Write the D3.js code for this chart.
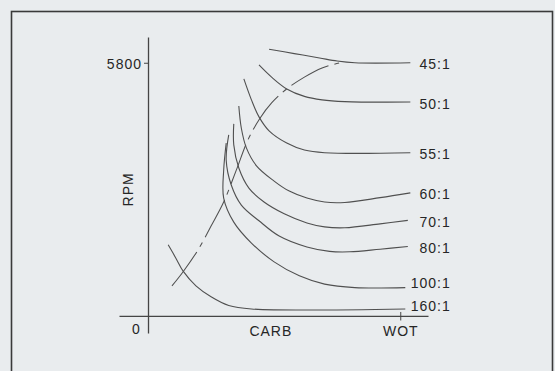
<!DOCTYPE html>
<html>
<head>
<meta charset="utf-8">
<script src="https://cdn.jsdelivr.net/npm/d3@7"></script>
<style>
  html, body { margin: 0; padding: 0; background: #e9ecee; }
  svg { display: block; }
  text { font-family: "Liberation Sans", Arial, sans-serif; fill: #262626; }
</style>
</head>
<body>
<svg id="chart" width="555" height="371"></svg>
<script>
// Engine speed (rpm) against throttle opening (%), one curve per mixture ratio.
const ratioLabels = ["45:1", "50:1", "55:1", "60:1", "70:1", "80:1", "100:1", "160:1"];

const curve45  = [[48, 6110], [58, 6010], [68, 5910], [75, 5840], [82, 5800], [104, 5800]];
const curve50  = [[44, 5750], [49, 5470], [55, 5200], [62, 5030], [69, 4950], [78, 4910], [104, 4900]];
const curve55  = [[38, 5430], [41, 4950], [44, 4560], [48, 4240], [55, 3960], [62, 3800], [70, 3740], [104, 3740]];
const curve60  = [[36, 4810], [37, 4300], [39, 3850], [43, 3440], [50, 3090], [56, 2860], [63, 2700], [70, 2610], [78, 2600], [92, 2710], [104, 2820]];
const curve70  = [[34, 4400], [34, 3920], [36, 3390], [40, 2930], [46, 2610], [54, 2340], [63, 2130], [70, 2040], [78, 2020], [92, 2110], [103, 2190]];
const curve80  = [[32, 4150], [31, 3570], [33, 3000], [37, 2540], [44, 2180], [52, 1830], [63, 1580], [72, 1480], [80, 1470], [92, 1530], [103, 1590]];
const curve100 = [[31, 3960], [30, 3340], [30, 2700], [34, 2150], [41, 1670], [50, 1240], [60, 920], [70, 730], [82, 650], [102, 650]];
const curve160 = [[8, 1630], [11, 1330], [14, 1020], [19, 690], [25, 440], [32, 240], [41, 160], [102, 160]];

// Locus through the knees of the curves
const locus = [[9.5, 690], [14, 1020], [20, 1530], [25, 2060], [30, 2610], [35, 3340], [39.6, 4030], [44.4, 4530], [49, 4880], [55, 5200], [62, 5470], [69, 5680], [76, 5800]];

const yTickValues = [5800];
const xTickValues = [48.5, 100];
const xTickLabels = ["CARB", "WOT"];
const yTitle = "RPM";
const originLabel = "0";

const curves = [curve45, curve50, curve55, curve60, curve70, curve80, curve100, curve160];

const svg = d3.select("#chart");
const ink = "#454545";
const curveInk = "#505050";
const fontFamily = "Liberation Sans, Arial, sans-serif";

// Page frame
svg.append("rect")
  .attr("x", 11.5).attr("y", 11.5)
  .attr("width", 541).attr("height", 420)
  .attr("fill", "none").attr("stroke", "#3a3a3a").attr("stroke-width", 1.6);

const x = d3.scaleLinear().domain([-11.5, 111]).range([119, 428]);
const y = d3.scaleLinear().domain([-390, 6390]).range([333, 37]);

// Y axis (runs past the origin)
const yAxis = svg.append("g")
  .attr("transform", `translate(${x(0)},0)`)
  .call(d3.axisLeft(y).tickValues(yTickValues).tickSize(4).tickSizeOuter(0).tickPadding(2).tickFormat(d3.format("d")));
yAxis.select(".domain").attr("stroke", ink).attr("stroke-width", 1.3);
yAxis.selectAll(".tick line").attr("stroke", ink).attr("stroke-width", 1);
yAxis.selectAll(".tick text")
  .attr("font-size", 14).attr("letter-spacing", 1)
  .attr("font-family", fontFamily)
  .attr("fill", "#262626").attr("dy", "0.42em");

// X axis (runs past the origin to the left)
const xAxis = svg.append("g")
  .attr("transform", `translate(0,${y(0)})`)
  .call(d3.axisBottom(x).tickValues(xTickValues).tickSize(0).tickSizeOuter(0).tickPadding(10)
    .tickFormat((d, i) => xTickLabels[i]));
xAxis.select(".domain").attr("stroke", ink).attr("stroke-width", 1.3);
xAxis.selectAll(".tick text")
  .attr("font-size", 14).attr("letter-spacing", 1)
  .attr("font-family", fontFamily)
  .attr("fill", "#262626");
// Only the WOT position carries a tick mark, crossing the axis
xAxis.selectAll(".tick line")
  .attr("y1", d => d === 100 ? -4 : 0)
  .attr("y2", d => d === 100 ? 4.5 : 0)
  .attr("stroke", ink).attr("stroke-width", 1);

// Origin label
svg.append("text")
  .attr("x", x(0) - 12).attr("y", y(0) + 13)
  .attr("text-anchor", "middle").attr("dominant-baseline", "central")
  .attr("font-size", 14).text(originLabel);

// Axis title
svg.append("text")
  .attr("transform", `translate(${x(0) - 20},${(y(0) + y(5800)) / 2}) rotate(-90)`)
  .attr("text-anchor", "middle").attr("dominant-baseline", "central")
  .attr("font-size", 14).attr("letter-spacing", 1).text(yTitle);

const line = d3.line()
  .x(d => x(d[0])).y(d => y(d[1]))
  .curve(d3.curveCatmullRom.alpha(0.5));

// Ratio curves
svg.append("g").selectAll("path")
  .data(curves)
  .join("path")
  .attr("d", line)
  .attr("fill", "none")
  .attr("stroke", curveInk)
  .attr("stroke-width", 1.1);

// Knee locus, broken line
svg.append("path")
  .datum(locus)
  .attr("d", line)
  .attr("fill", "none")
  .attr("stroke", curveInk)
  .attr("stroke-width", 1.05)
  .attr("stroke-dasharray", "42,6,5,6");

// Ratio labels at the right-hand end of each curve; stacked from the
// bottom up so they keep clear of the axis and of each other.
const labelRight = x(100) + 50.5;
const labelGap = 23;
const labelY = new Array(curves.length);
for (let i = curves.length - 1; i >= 0; i--) {
  const c = curves[i];
  let ly = y(c[c.length - 1][1]) + 1.5;
  if (i === curves.length - 1) ly = Math.min(ly, y(0) - 9.5);
  else ly = Math.min(ly, labelY[i + 1] - labelGap);
  labelY[i] = ly;
}
svg.append("g").selectAll("text")
  .data(curves)
  .join("text")
  .attr("x", labelRight)
  .attr("y", (d, i) => labelY[i])
  .attr("text-anchor", "end")
  .attr("dominant-baseline", "central")
  .attr("font-size", 14)
  .attr("letter-spacing", 1)
  .text((d, i) => ratioLabels[i]);
</script>
</body>
</html>
